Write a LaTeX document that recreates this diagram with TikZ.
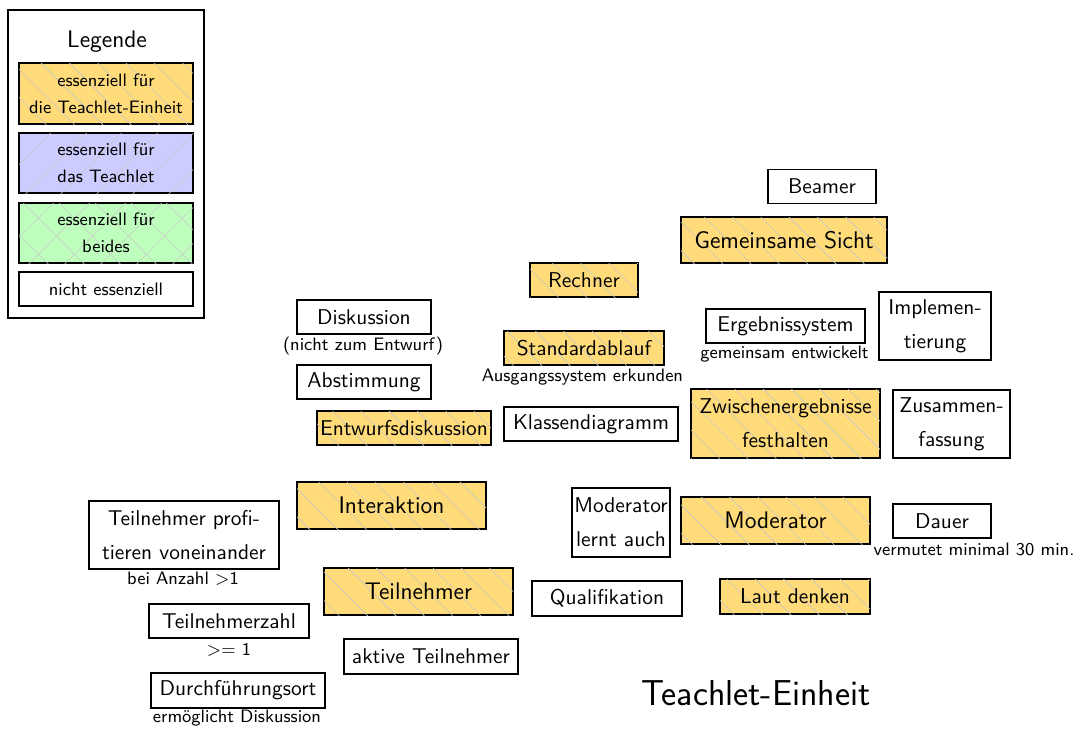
\documentclass[tikz,border=0pt]{standalone}
\usepackage{fontspec}
\usetikzlibrary{patterns.meta}
\definecolor{essyellow}{RGB}{255,219,122}
\definecolor{essblue}{RGB}{204,204,255}
\definecolor{essgreen}{RGB}{190,255,190}
\colorlet{hatch}{black!22}

\begin{document}
\begin{tikzpicture}[x=0.5pt,y=-0.5pt,
  wd/.style={minimum width=#1*0.5pt},
  ht/.style={minimum height=#1*0.5pt},
  card/.style={draw=black, line width=0.6pt, inner sep=0pt, align=center,
    font=\sffamily\fontsize{10.7}{17}\selectfont},
  plain/.style={card, fill=white},
  unit/.style={card, fill=essyellow,
    postaction={pattern color=hatch, pattern={Lines[angle=-45,distance=10pt,line width=0.3pt]}}},
  teach/.style={card, fill=essblue,
    postaction={pattern color=hatch, pattern={Lines[angle=45,distance=13pt,line width=0.3pt]}}},
  both/.style={card, fill=essgreen,
    postaction={pattern color=hatch, pattern={Lines[angle=45,distance=13pt,line width=0.3pt]}},
    postaction={pattern color=hatch, pattern={Lines[angle=-45,distance=13pt,line width=0.3pt]}}},
  big/.style={font=\sffamily\fontsize{12}{15}\selectfont},
  legtext/.style={font=\sffamily\fontsize{9}{13.5}\selectfont},
  note/.style={inner sep=0pt, anchor=base, font=\sffamily\fontsize{9}{11}\selectfont},
]
\fill[white] (0,0) rectangle (1076,729);
\useasboundingbox (0,0) rectangle (1076,729);

% legend
\node[draw=black, line width=0.6pt, inner sep=0pt, wd=196, ht=308] (legend) at (106,164) {};
\node[inner sep=0pt, font=\sffamily\fontsize{12}{14}\selectfont] (legtitle) at (107,42) {Legende};
\node[unit, legtext, wd=174, ht=61] (legunit) at (106,93.5) {essenziell für\\die Teachlet-Einheit};
\node[teach, legtext, wd=174, ht=60] (legteach) at (106,163) {essenziell für\\das Teachlet};
\node[both, legtext, wd=174, ht=60] (legboth) at (106,233) {essenziell für\\beides};
\node[plain, legtext, wd=174, ht=34] (legnone) at (106,289) {nicht essenziell};

% upper right group
\node[plain, wd=108, ht=34] (beamer) at (822,186.5) {Beamer};
\node[unit, big, wd=206, ht=46] (gemsicht) at (784,240) {Gemeinsame Sicht};
\node[unit, wd=108, ht=34] (rechner) at (584,280) {Rechner};
\node[plain, wd=159, ht=34] (ergebnis) at (785.5,326) {Ergebnissystem};
\node[note] (ergebnisnote) at (784.5,358.5) {gemeinsam entwickelt};
\node[plain, wd=112, ht=68] (implem) at (935,326) {Implemen-\\tierung};
\node[unit, wd=189, ht=69] (zwischen) at (785.5,423.5) {Zwischenergebnisse\\festhalten};
\node[plain, wd=117, ht=68] (zusammen) at (951.5,424) {Zusammen-\\fassung};

% middle group
\node[plain, wd=134, ht=34] (diskussion) at (364,317) {Diskussion};
\node[note] (diskussionnote) at (363,350.5) {(nicht zum Entwurf)};
\node[unit, wd=160, ht=34] (standard) at (584,348) {Standardablauf};
\node[note] (standardnote) at (582.5,381) {Ausgangssystem erkunden};
\node[plain, wd=134, ht=34] (abstimmung) at (364,382) {Abstimmung};
\node[unit, wd=174, ht=34] (entwurf) at (404,428) {Entwurfsdiskussion};
\node[plain, wd=174, ht=34] (klassen) at (591,424) {Klassendiagramm};

% lower group
\node[unit, big, wd=189, ht=47] (interaktion) at (391.5,505.5) {Interaktion};
\node[plain, wd=190, ht=68] (profit) at (184,535) {Teilnehmer profi-\\tieren voneinander};
\node[note] (profitnote) at (183,584) {bei Anzahl $>$1};
\node[unit, big, wd=189, ht=47] (teilnehmer) at (418.5,591.5) {Teilnehmer};
\node[plain, wd=160, ht=34] (tnzahl) at (229,621) {Teilnehmerzahl};
\node[note] (tnzahlnote) at (229,655) {$>=$ 1};
\node[plain, wd=174, ht=35] (aktive) at (431,656.5) {aktive Teilnehmer};
\node[plain, wd=174, ht=35] (ort) at (238,690.5) {Durchführungsort};
\node[note] (ortnote) at (237,722) {ermöglicht Diskussion};
\node[plain, wd=98, ht=69] (modlernt) at (621,522.5) {Moderator\\lernt auch};
\node[unit, big, wd=189, ht=47] (moderator) at (775.5,520.5) {Moderator};
\node[plain, wd=98, ht=34] (dauer) at (942,521) {Dauer};
\node[note] (dauernote) at (974,555) {vermutet minimal 30 min.};
\node[plain, wd=150, ht=35] (quali) at (607,598.5) {Qualifikation};
\node[unit, wd=150, ht=35] (laut) at (795,596.5) {Laut denken};

% title
\node[inner sep=0pt, anchor=base, font=\sffamily\fontsize{18}{20}\selectfont] (title) at (756,705) {Teachlet-Einheit};
\end{tikzpicture}
\end{document}
